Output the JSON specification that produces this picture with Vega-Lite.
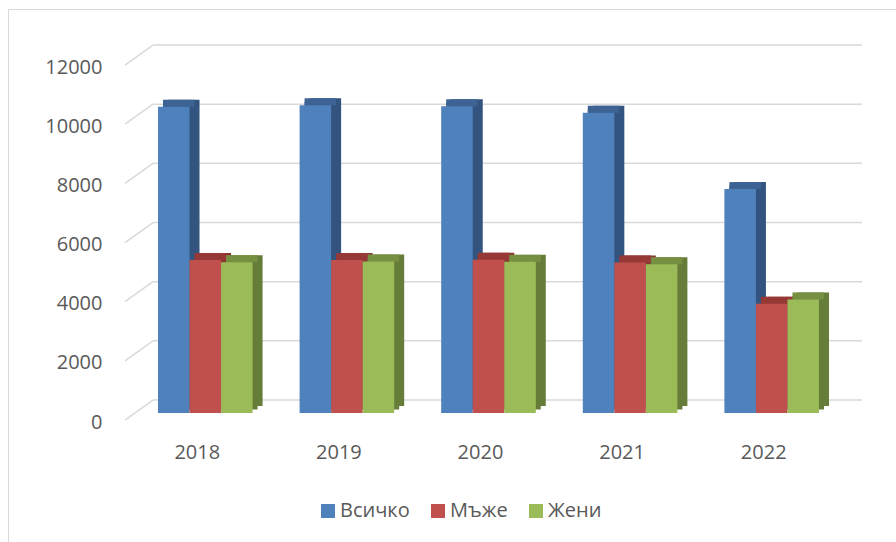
{
  "$schema": "https://vega.github.io/schema/vega-lite/v6.json",
  "width": 890,
  "height": 535,
  "autosize": {"type": "none"},
  "padding": {"left": 8, "top": 9, "right": -2, "bottom": -2},
  "background": "white",
  "config": {
    "view": {"stroke": "#d9d9d9", "strokeWidth": 1},
    "font": "Open Sans",
    "axisX": {"orient": "bottom", "offset": -110, "labelAngle": 0, "domain": false, "ticks": false, "grid": false, "labelPadding": 8, "labelOffset": -8, "labelFontSize": 20, "labelColor": "#595959", "labelFont": "Open Sans", "title": null},
    "axisY": {"orient": "left", "offset": -98, "grid": false, "domain": false, "ticks": false, "labelPadding": 4, "labelOffset": 9, "labelFontSize": 20, "labelColor": "#595959", "labelFont": "Open Sans", "title": null}
  },
  "datasets": {
    "bars": [
      {"year": "2018", "series": "Всичко", "value": 10350},
      {"year": "2018", "series": "Мъже", "value": 5170},
      {"year": "2018", "series": "Жени", "value": 5100},
      {"year": "2019", "series": "Всичко", "value": 10400},
      {"year": "2019", "series": "Мъже", "value": 5170},
      {"year": "2019", "series": "Жени", "value": 5120},
      {"year": "2020", "series": "Всичко", "value": 10370},
      {"year": "2020", "series": "Мъже", "value": 5180},
      {"year": "2020", "series": "Жени", "value": 5110},
      {"year": "2021", "series": "Всичко", "value": 10150},
      {"year": "2021", "series": "Мъже", "value": 5090},
      {"year": "2021", "series": "Жени", "value": 5030},
      {"year": "2022", "series": "Всичко", "value": 7570},
      {"year": "2022", "series": "Мъже", "value": 3690},
      {"year": "2022", "series": "Жени", "value": 3840}
    ],
    "ticks": [
      {"v": 0}, {"v": 2000}, {"v": 4000}, {"v": 6000}, {"v": 8000}, {"v": 10000}, {"v": 12000}
    ]
  },
  "resolve": {"scale": {"color": "independent", "xOffset": "independent"}},
  "layer": [
    {
      "data": {"name": "ticks"},
      "mark": {"type": "rule", "color": "#d9d9d9", "strokeWidth": 1.5, "xOffset": -52.3, "x2Offset": 90.4, "yOffset": -13, "y2Offset": -13},
      "encoding": {
        "x": {"datum": "2018", "type": "nominal", "scale": {"paddingInner": 0.3319, "paddingOuter": 0.8086, "align": 0.655}, "axis": {"title": null}},
        "x2": {"datum": "2022"},
        "y": {"field": "v", "type": "quantitative", "scale": {"domain": [-4428, 13658], "nice": false, "zero": false}, "axis": {"values": [0, 2000, 4000, 6000, 8000, 10000, 12000], "format": "d", "title": null}},
        "y2": {"field": "v"}
      }
    },
    {
      "data": {"name": "ticks"},
      "mark": {"type": "rule", "color": "#d9d9d9", "strokeWidth": 1.5, "xOffset": -80.3, "x2Offset": -52.3, "yOffset": 7, "y2Offset": -13},
      "encoding": {
        "x": {"datum": "2018", "type": "nominal", "scale": {"paddingInner": 0.3319, "paddingOuter": 0.8086, "align": 0.655}, "axis": {"title": null}},
        "x2": {"datum": "2018"},
        "y": {"field": "v", "type": "quantitative", "scale": {"domain": [-4428, 13658], "nice": false, "zero": false}, "axis": {"values": [0, 2000, 4000, 6000, 8000, 10000, 12000], "format": "d", "title": null}},
        "y2": {"field": "v"}
      }
    },
    {
      "data": {"name": "bars"},
      "mark": {"type": "bar", "yOffset": -7, "y2Offset": -7},
      "encoding": {
        "x": {"field": "year", "type": "nominal", "scale": {"paddingInner": 0.3319, "paddingOuter": 0.8086, "align": 0.655}, "axis": {"title": null}},
        "xOffset": {"field": "series", "type": "nominal", "sort": ["Всичко", "Мъже", "Жени"], "scale": {"paddingInner": 0, "paddingOuter": 0, "range": [10, 104.6]}},
        "y": {"field": "value", "type": "quantitative", "scale": {"domain": [-4428, 13658], "nice": false, "zero": false}, "axis": {"values": [0, 2000, 4000, 6000, 8000, 10000, 12000], "format": "d", "title": null}},
        "y2": {"datum": 0},
        "color": {"field": "series", "type": "nominal", "legend": null, "scale": {"domain": ["Всичко", "Мъже", "Жени"], "range": ["#33547e", "#8b3835", "#667d3a"]}}
      }
    },
    {
      "data": {"name": "bars"},
      "mark": {"type": "bar", "yOffset": -3.5, "y2Offset": -3.5},
      "encoding": {
        "x": {"field": "year", "type": "nominal", "scale": {"paddingInner": 0.3319, "paddingOuter": 0.8086, "align": 0.655}, "axis": {"title": null}},
        "xOffset": {"field": "series", "type": "nominal", "sort": ["Всичко", "Мъже", "Жени"], "scale": {"paddingInner": 0, "paddingOuter": 0, "range": [5, 99.6]}},
        "y": {"field": "value", "type": "quantitative", "scale": {"domain": [-4428, 13658], "nice": false, "zero": false}, "axis": {"values": [0, 2000, 4000, 6000, 8000, 10000, 12000], "format": "d", "title": null}},
        "y2": {"datum": 0},
        "color": {"field": "series", "type": "nominal", "legend": null, "scale": {"domain": ["Всичко", "Мъже", "Жени"], "range": ["#33547e", "#8b3835", "#667d3a"]}}
      }
    },
    {
      "data": {"name": "bars"},
      "mark": {"type": "bar", "yOffset": -7, "y2Offset": 0},
      "encoding": {
        "x": {"field": "year", "type": "nominal", "scale": {"paddingInner": 0.3319, "paddingOuter": 0.8086, "align": 0.655}, "axis": {"title": null}},
        "xOffset": {"field": "series", "type": "nominal", "sort": ["Всичко", "Мъже", "Жени"], "scale": {"paddingInner": 0, "paddingOuter": 0, "range": [5, 99.6]}},
        "y": {"field": "value", "type": "quantitative", "scale": {"domain": [-4428, 13658], "nice": false, "zero": false}, "axis": {"values": [0, 2000, 4000, 6000, 8000, 10000, 12000], "format": "d", "title": null}},
        "y2": {"field": "value"},
        "color": {"field": "series", "type": "nominal", "legend": null, "scale": {"domain": ["Всичко", "Мъже", "Жени"], "range": ["#3c6394", "#953836", "#768f41"]}}
      }
    },
    {
      "data": {"name": "bars"},
      "mark": {"type": "bar"},
      "encoding": {
        "x": {"field": "year", "type": "nominal", "scale": {"paddingInner": 0.3319, "paddingOuter": 0.8086, "align": 0.655}, "axis": {"title": null}},
        "xOffset": {"field": "series", "type": "nominal", "sort": ["Всичко", "Мъже", "Жени"], "scale": {"paddingInner": 0, "paddingOuter": 0, "range": [0, 94.6]}},
        "y": {"field": "value", "type": "quantitative", "scale": {"domain": [-4428, 13658], "nice": false, "zero": false}, "axis": {"values": [0, 2000, 4000, 6000, 8000, 10000, 12000], "format": "d", "title": null}},
        "y2": {"datum": 0},
        "color": {"field": "series", "type": "nominal",
          "scale": {"domain": ["Всичко", "Мъже", "Жени"], "range": ["#4f81bd", "#c0504d", "#9bbb59"]},
          "legend": {"orient": "none", "legendX": 310, "legendY": 492, "direction": "horizontal", "title": null, "symbolType": "square", "symbolSize": 196, "symbolStrokeWidth": 0, "symbolOpacity": 1, "labelFontSize": 20, "labelColor": "#595959", "labelFont": "Open Sans", "labelOffset": 2, "columnPadding": 18, "padding": 0}}
      }
    }
  ]
}
